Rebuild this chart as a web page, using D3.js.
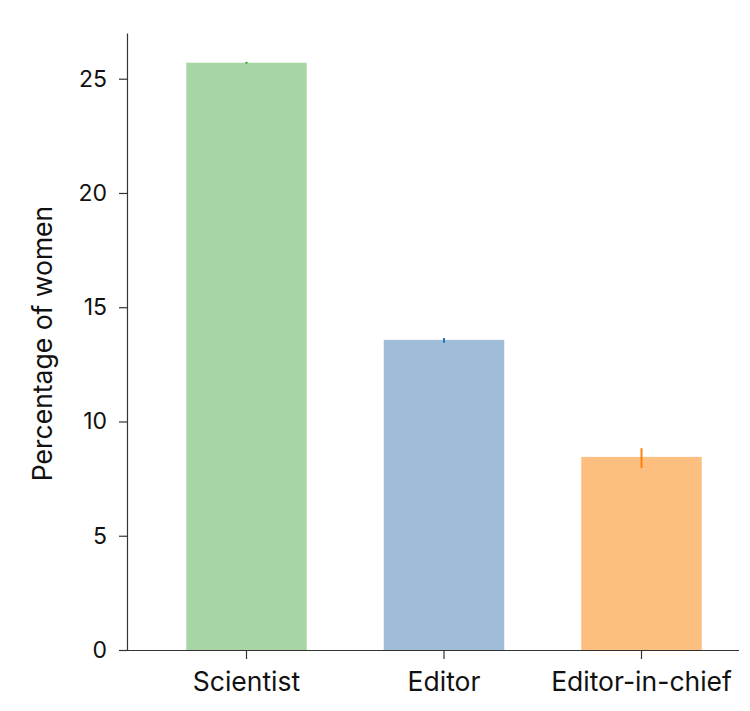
<!DOCTYPE html>
<html>
<head>
<meta charset="utf-8">
<script src="https://cdn.jsdelivr.net/npm/d3@7"></script>
<style>
  body { margin: 0; background: #fff; }
  svg text { font-family: Inter, "Noto Sans", sans-serif; fill: #111; }
</style>
</head>
<body>
<svg></svg>
<script>
let categories = ['Scientist', 'Editor', 'Editor-in-chief'];
let values = [25.7, 13.57, 8.45];
let errLow = [25.66, 13.45, 7.97];
let errHigh = [25.74, 13.65, 8.83];
let yTicks = [0, 5, 10, 15, 20, 25];

let barColors = ['#a8d5a4', '#9fbdd9', '#fdbf7f'];
let errColors = ['#2ca02c', '#1f77b4', '#ff7f0e'];

let w = 750;
let h = 711;
let padLeft = 127;
let padBottom = 650;
let padTop = 33;

let svg = d3.select('svg')
    .attr('width', w)
    .attr('height', h);

let xScale = d3.scaleBand()
    .domain(categories)
    .range([padLeft, 761])
    .paddingInner(0.39)
    .paddingOuter(0.3);

let yScale = d3.scaleLinear()
    .domain([0, 27])
    .range([padBottom, padTop]);

// bars
svg.selectAll('rect.bar')
    .data(categories)
    .enter()
    .append('rect')
    .attr('class', 'bar')
    .attr('x', d => xScale(d))
    .attr('width', xScale.bandwidth())
    .attr('y', (d, i) => yScale(values[i]))
    .attr('height', (d, i) => padBottom - yScale(values[i]))
    .attr('fill', (d, i) => barColors[i]);

// error bars
svg.selectAll('line.err')
    .data(categories)
    .enter()
    .append('line')
    .attr('class', 'err')
    .attr('x1', d => xScale(d) + xScale.bandwidth() / 2)
    .attr('x2', d => xScale(d) + xScale.bandwidth() / 2)
    .attr('y1', (d, i) => yScale(errLow[i]))
    .attr('y2', (d, i) => yScale(errHigh[i]))
    .attr('stroke', (d, i) => errColors[i])
    .attr('stroke-width', 2);

// axes
let xAxis = d3.axisBottom(xScale).tickSize(9).tickPadding(13).tickSizeOuter(0);
let yAxis = d3.axisLeft(yScale).tickValues(yTicks).tickSize(8).tickPadding(12).tickSizeOuter(0);

let gx = svg.append('g')
    .attr('id', 'x-axis')
    .attr('transform', 'translate(0,' + padBottom + ')')
    .call(xAxis);
gx.select('.domain').attr('d', 'M' + padLeft + ',0.5H739');

let gy = svg.append('g')
    .attr('id', 'y-axis')
    .attr('transform', 'translate(' + padLeft + ',0)')
    .call(yAxis);

svg.selectAll('.domain, .tick line')
    .attr('stroke', '#333')
    .attr('stroke-width', 1.2);

gx.selectAll('text')
    .attr('font-size', 26.5)
    .attr('fill', '#111');
gy.selectAll('text')
    .attr('font-size', 23)
    .attr('fill', '#111');

svg.append('text')
    .attr('transform', 'translate(52,' + ((padTop + padBottom) / 2 + 2) + ') rotate(-90)')
    .attr('text-anchor', 'middle')
    .attr('font-size', 26.5)
    .text('Percentage of women');
</script>
</body>
</html>
